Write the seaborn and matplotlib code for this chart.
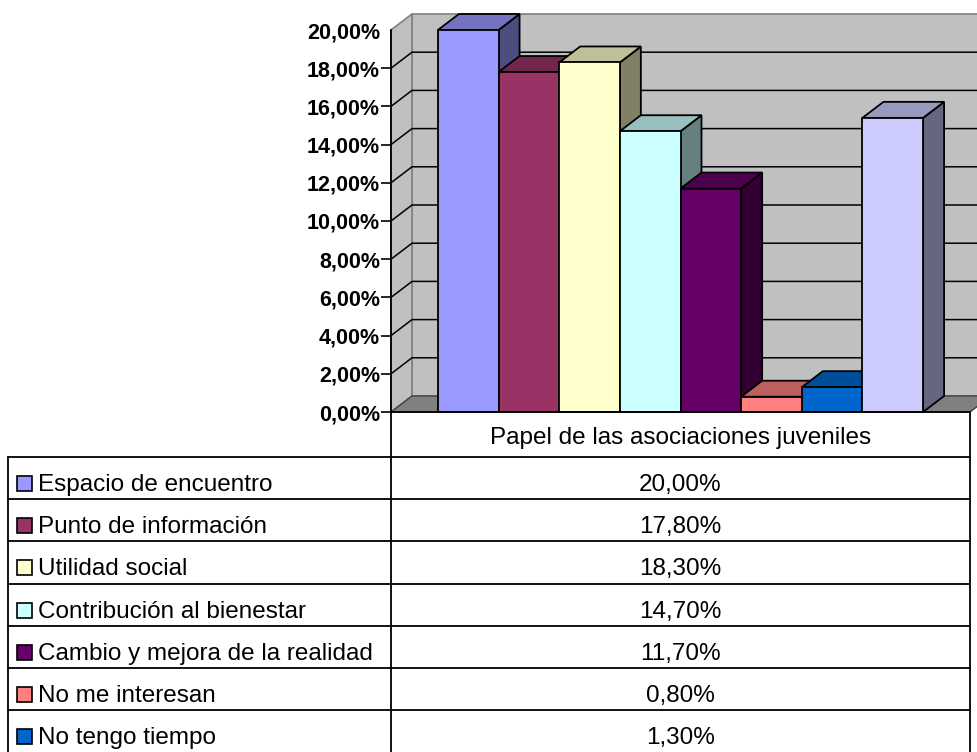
import numpy as np
import pandas as pd
import matplotlib
matplotlib.use("Agg")
import matplotlib.pyplot as plt
from matplotlib.patches import Polygon, Rectangle
import seaborn as sns

# Survey data: role of youth associations (percent of answers)
grupo = "Papel de las asociaciones juveniles"
series = [
    "Espacio de encuentro",
    "Punto de información",
    "Utilidad social",
    "Contribución al bienestar",
    "Cambio y mejora de la realidad",
    "No me interesan",
    "No tengo tiempo",
    "Otros",
]
valores = [20.0, 17.8, 18.3, 14.7, 11.7, 0.8, 1.3, 15.4]
colores = ["#9999FF", "#993366", "#FFFFCC", "#CCFFFF",
           "#660066", "#FF8080", "#0066CC", "#CCCCFF"]
yticks = [0, 2, 4, 6, 8, 10, 12, 14, 16, 18, 20]

df = pd.DataFrame({"grupo": grupo, "serie": series, "valor": valores})

sns.set_theme(style="white")
plt.rcParams["font.family"] = ["Liberation Sans", "DejaVu Sans"]
plt.rcParams["text.color"] = "black"
plt.rcParams["axes.labelcolor"] = "black"
plt.rcParams["xtick.color"] = "black"
plt.rcParams["ytick.color"] = "black"

W, H = 978, 752
fig = plt.figure(figsize=(W / 100, H / 100), dpi=100)

# Front plane of the 3D plot area, in pixels
PX_L, PX_R, PX_T, PX_B = 391, 970, 30, 412
ax = fig.add_axes([PX_L / W, 1 - PX_B / H, (PX_R - PX_L) / W, (PX_B - PX_T) / H])

sns.barplot(data=df, x="grupo", y="valor", hue="serie", hue_order=series,
            palette=colores, saturation=1, width=0.838, dodge=True,
            edgecolor="black", linewidth=1.3, legend=False, ax=ax)
bars = sorted(list(ax.patches), key=lambda p: p.get_x())

ax.set_xlim(-0.5, 0.5)
ax.set_ylim(0, 20)
ax.patch.set_visible(False)

# depth of the 3D box in pixels, converted to data units
DX_PX, DY_PX = 21, 16
ux = (PX_R - PX_L) / 1.0
uy = (PX_B - PX_T) / 20.0
ddx, ddy = DX_PX / ux, DY_PX / uy

x_l, x_r = -0.5, 0.5
wall_kw = dict(clip_on=False, joinstyle="miter")
# back wall
ax.add_patch(Polygon([(x_l + ddx, ddy), (x_r + 2 * ddx, ddy), (x_r + 2 * ddx, 20 + ddy),
                      (x_l + ddx, 20 + ddy)], closed=True, facecolor="#C0C0C0",
                     edgecolor="#808080", linewidth=1.2, zorder=1, **wall_kw))
# left wall
ax.add_patch(Polygon([(x_l, 0), (x_l + ddx, ddy), (x_l + ddx, 20 + ddy), (x_l, 20)],
                     closed=True, facecolor="#C0C0C0", edgecolor="#808080",
                     linewidth=1.2, zorder=1.2, **wall_kw))
# gridlines across the left wall and the back wall
for t in yticks[1:-1]:
    ax.plot([x_l, x_l + ddx, x_r + 2 * ddx], [t, t + ddy, t + ddy], color="black",
            linewidth=1.1, clip_on=False, zorder=1.5, solid_joinstyle="miter")
# floor
ax.add_patch(Polygon([(x_l, 0), (x_r, 0), (x_r + ddx, ddy), (x_l + ddx, ddy)],
                     closed=True, facecolor="#808080", edgecolor="#404040",
                     linewidth=1.0, zorder=2, **wall_kw))


def shade(c, f):
    r, g, b = matplotlib.colors.to_rgb(c)
    return (r * f, g * f, b * f)


# extrude each bar: right side and top faces behind its front face
for i, b in enumerate(bars):
    x0, w, h = b.get_x(), b.get_width(), b.get_height()
    fc = b.get_facecolor()
    side = Polygon([(x0 + w, 0), (x0 + w + ddx, ddy), (x0 + w + ddx, h + ddy), (x0 + w, h)],
                   closed=True, facecolor=shade(fc, 0.5), edgecolor="black",
                   linewidth=1.3, clip_on=False, zorder=10 + 3 * i)
    top = Polygon([(x0, h), (x0 + w, h), (x0 + w + ddx, h + ddy), (x0 + ddx, h + ddy)],
                  closed=True, facecolor=shade(fc, 0.75), edgecolor="black",
                  linewidth=1.3, clip_on=False, zorder=10 + 3 * i + 1)
    ax.add_patch(side)
    ax.add_patch(top)
    b.set_zorder(10 + 3 * i + 2)
    b.set_clip_on(False)

# axes, ticks and labels
for s in ["top", "right"]:
    ax.spines[s].set_visible(False)
for s in ["left", "bottom"]:
    ax.spines[s].set_color("black")
    ax.spines[s].set_linewidth(1.3)
    ax.spines[s].set_zorder(40)
ax.set_yticks(yticks)
ax.set_yticklabels([f"{t:.2f}".replace(".", ",") + "%" for t in yticks],
                   fontsize=15.5, fontweight="bold", color="black")
ax.tick_params(axis="y", direction="out", length=7, width=1.2, color="black", pad=1,
               left=True)
ax.yaxis.get_major_ticks()[-1].tick1line.set_visible(False)
ax.set_xticks([])
ax.set_xlabel("")
ax.set_ylabel("")

# data table underneath the chart, drawn in pixel coordinates
tab = fig.add_axes([0, 0, 1, 1])
tab.set_xlim(0, W)
tab.set_ylim(H, 0)
tab.axis("off")
tab.patch.set_visible(False)

T_L, T_M, T_R = 8, 391, 970
HEAD_B = 457
ROW_H = 42.2
BASE = 34
lw = 1.3
tab.text((T_M + T_R) / 2, 444, grupo, ha="center", va="baseline",
         fontsize=17.5, color="black")
tab.plot([T_M, T_M], [PX_B, H + 5], color="black", linewidth=lw, clip_on=False)
tab.plot([T_R, T_R], [PX_B, H + 5], color="black", linewidth=lw, clip_on=False)
tab.plot([T_L, T_L], [HEAD_B, H + 5], color="black", linewidth=lw, clip_on=False)
for i, (name, val, col) in enumerate(zip(series, valores, colores)):
    y0 = HEAD_B + i * ROW_H
    if y0 >= H:
        break
    tab.plot([T_L, T_R], [y0, y0], color="black", linewidth=lw)
    tab.add_patch(Rectangle((16.5, y0 + 19), 15, 15, facecolor=col,
                            edgecolor="black", linewidth=1.2))
    tab.text(38, y0 + BASE, name, ha="left", va="baseline", fontsize=17.5,
             color="black")
    tab.text((T_M + T_R) / 2, y0 + BASE, f"{val:.2f}".replace(".", ",") + "%",
             ha="center", va="baseline", fontsize=17.5, color="black")

fig.savefig("out.png", dpi=100, facecolor="white")
